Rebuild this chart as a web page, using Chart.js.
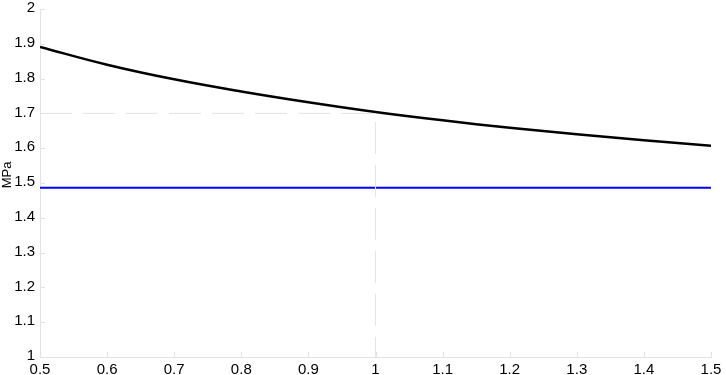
<!DOCTYPE html>
<html lang="en">
<head>
  <meta charset="UTF-8" />
  <title>MPa chart</title>
  <script src="https://cdn.jsdelivr.net/npm/chart.js@4.4.0/dist/chart.umd.min.js"></script>
  <style>
    body { margin: 0; background: #fff; }
    #wrap { width: 726px; height: 375px; }
  </style>
</head>
<body>
  <div id="wrap"><canvas id="chart"></canvas></div>
  <script>
    // data
    const xValues = [0.5, 0.6, 0.7, 0.8, 0.9, 1.0, 1.1, 1.2, 1.3, 1.4, 1.5];
    const curveValues = [1.891, 1.840, 1.798, 1.763, 1.732, 1.704, 1.680, 1.659, 1.640, 1.623, 1.607];
    const flatX = [0.5, 1.5];
    const flatValues = [1.486, 1.486];
    const guideX = [0.5, 1.0, 1.0];
    const guideY = [1.7, 1.7, 1.0];
    const xTicks = [0.5, 0.6, 0.7, 0.8, 0.9, 1, 1.1, 1.2, 1.3, 1.4, 1.5];
    const yTicks = [1, 1.1, 1.2, 1.3, 1.4, 1.5, 1.6, 1.7, 1.8, 1.9, 2];

    const pts = (xs, ys) => xs.map((x, i) => ({ x: x, y: ys[i] }));
    const axisColor = '#e3e3e3';
    const family = 'Liberation Sans, Arial, sans-serif';

    // short inward tick marks and the rotated unit label
    const extras = {
      id: 'extras',
      afterDraw(chart) {
        const { ctx, chartArea: a, scales } = chart;
        ctx.save();
        ctx.strokeStyle = axisColor;
        ctx.lineWidth = 1;
        yTicks.forEach(v => {
          const y = Math.round(scales.y.getPixelForValue(v)) + 0.5;
          ctx.beginPath(); ctx.moveTo(a.left, y); ctx.lineTo(a.left + 5, y); ctx.stroke();
        });
        xTicks.forEach(v => {
          const x = Math.round(scales.x.getPixelForValue(v)) + 0.5;
          ctx.beginPath(); ctx.moveTo(x, a.bottom); ctx.lineTo(x, a.bottom - 5); ctx.stroke();
        });
        ctx.translate(7, 175);
        ctx.rotate(-Math.PI / 2);
        ctx.fillStyle = '#000';
        ctx.font = '13px ' + family;
        ctx.textAlign = 'center';
        ctx.textBaseline = 'middle';
        ctx.fillText('MPa', 0, 0);
        ctx.restore();
      }
    };

    new Chart(document.getElementById('chart'), {
      type: 'line',
      data: {
        datasets: [
          { data: pts(guideX, guideY), borderColor: '#e4e4e4', borderWidth: 1, borderDash: [32, 11], pointRadius: 0, tension: 0 },
          { data: pts(flatX, flatValues), borderColor: '#0000ff', borderWidth: 2, pointRadius: 0, tension: 0 },
          { data: pts(xValues, curveValues), borderColor: '#000000', borderWidth: 2.5, pointRadius: 0, tension: 0.4 }
        ]
      },
      options: {
        responsive: true,
        maintainAspectRatio: false,
        animation: false,
        layout: { padding: { top: 0, right: 15, left: 0, bottom: 0 } },
        plugins: { legend: { display: false }, tooltip: { enabled: false } },
        scales: {
          x: {
            type: 'linear', min: 0.5, max: 1.5,
            afterBuildTicks: s => { s.ticks = xTicks.map(v => ({ value: v })); },
            afterFit: s => { s.height = 18; s.paddingLeft = 0; s.paddingRight = 0; },
            border: { color: axisColor },
            grid: { drawOnChartArea: false, drawTicks: false },
            ticks: { color: '#000', font: { family: family, size: 15 }, padding: 4, maxRotation: 0, callback: v => String(v) }
          },
          y: {
            min: 1, max: 2,
            afterBuildTicks: s => { s.ticks = yTicks.map(v => ({ value: v })); },
            afterFit: s => { s.width = 40; s.paddingTop = 9; s.paddingBottom = 0; },
            border: { color: axisColor },
            grid: { drawOnChartArea: false, drawTicks: false },
            ticks: { color: '#000', font: { family: family, size: 15, lineHeight: 1 }, padding: 5, labelOffset: -1, callback: v => String(v) }
          }
        }
      },
      plugins: [extras]
    });
  </script>
</body>
</html>
